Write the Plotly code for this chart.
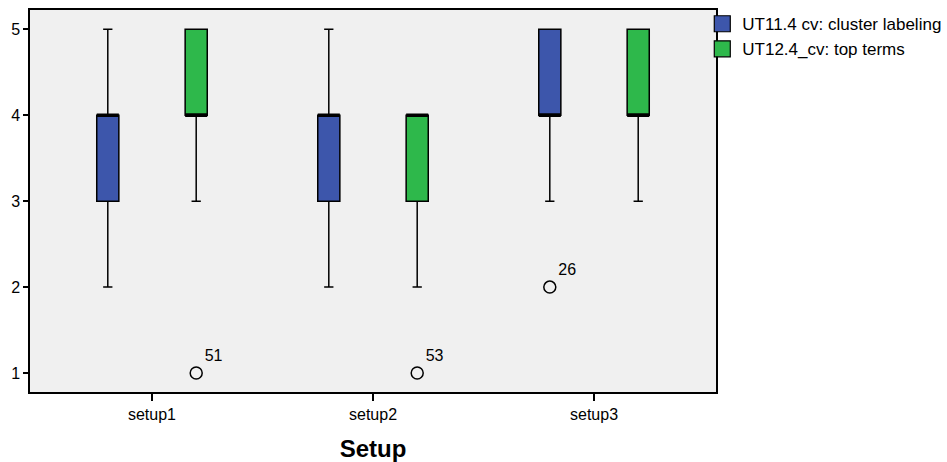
import plotly.graph_objects as go

# Group labels on the x axis
setups = ["setup1", "setup2", "setup3"]

# Five-number summaries per setup (whisker low, Q1, median, Q3, whisker high)
ut11_low = [2, 2, 3]
ut11_q1 = [3, 3, 4]
ut11_median = [4, 4, 4]
ut11_q3 = [4, 4, 5]
ut11_high = [5, 5, 5]

ut12_low = [3, 2, 3]
ut12_q1 = [4, 3, 4]
ut12_median = [4, 4, 4]
ut12_q3 = [5, 4, 5]
ut12_high = [5, 4, 5]

# Outliers: (setup index, series, value, case label)
outlier_setup = [0, 1, 2]
outlier_series = ["ut12", "ut12", "ut11"]
outlier_value = [1, 1, 2]
outlier_label = ["51", "53", "26"]

series_names = {"ut11": "UT11.4 cv: cluster labeling", "ut12": "UT12.4_cv: top terms"}
series_colors = {"ut11": "#3D56AB", "ut12": "#2EB84B"}
offsets = {"ut11": -0.2, "ut12": 0.2}
box_w = 0.1

fig = go.Figure()

stats = {
    "ut11": (ut11_low, ut11_q1, ut11_median, ut11_q3, ut11_high),
    "ut12": (ut12_low, ut12_q1, ut12_median, ut12_q3, ut12_high),
}

for key, (lo, q1, med, q3, hi) in stats.items():
    xs = [i + offsets[key] for i in range(len(setups))]
    fig.add_trace(go.Box(
        x=xs, lowerfence=lo, q1=q1, median=med, q3=q3, upperfence=hi,
        name=series_names[key], fillcolor=series_colors[key],
        line=dict(color="black", width=1.5), width=box_w, whiskerwidth=0.42,
        boxpoints=False, hoverinfo="skip", showlegend=False,
    ))
    # Heavier median strokes
    mx, my = [], []
    for x, m in zip(xs, med):
        mx += [x - box_w / 2, x + box_w / 2, None]
        my += [m, m, None]
    fig.add_trace(go.Scatter(x=mx, y=my, mode="lines",
                             line=dict(color="black", width=3.5),
                             showlegend=False, hoverinfo="skip"))

# Legend swatches
for key in ["ut11", "ut12"]:
    fig.add_trace(go.Scatter(
        x=[None], y=[None], mode="markers", name=series_names[key],
        marker=dict(symbol="square", size=16, color=series_colors[key],
                    line=dict(color="black", width=1.2)),
    ))

# Outlier circles with case labels
ox = [s + offsets[k] for s, k in zip(outlier_setup, outlier_series)]
fig.add_trace(go.Scatter(
    x=ox, y=outlier_value, mode="markers+text", text=outlier_label,
    textposition="top right",
    textfont=dict(family="Liberation Sans, Arial", size=16, color="black"),
    marker=dict(symbol="circle-open", size=12, color="black", line=dict(width=1.5)),
    showlegend=False, hoverinfo="skip",
))

fig.update_layout(
    width=947, height=462,
    margin=dict(l=30, r=231, t=10, b=70, autoexpand=False),
    paper_bgcolor="white", plot_bgcolor="#F0F0F0",
    font=dict(family="Liberation Sans, Arial", size=16, color="black"),
    legend=dict(x=0.98, y=1.01, xanchor="left", yanchor="top",
                font=dict(size=17), bgcolor="rgba(0,0,0,0)",
                tracegroupgap=0, itemwidth=30),
)
fig.update_xaxes(
    range=[-0.552, 2.552], tickmode="array",
    tickvals=list(range(len(setups))), ticktext=setups,
    showgrid=False, zeroline=False, showline=True, mirror=True,
    linecolor="black", linewidth=1.5, ticks="outside", ticklen=7,
    tickwidth=1.5, tickcolor="black",
    title=dict(text="<b>Setup</b>", font=dict(size=24), standoff=28),
)
fig.update_yaxes(
    range=[0.779, 5.225], tickvals=[1, 2, 3, 4, 5],
    showgrid=False, zeroline=False, showline=True, mirror=True,
    linecolor="black", linewidth=1.5, ticks="outside", ticklen=5,
    tickwidth=1.5, tickcolor="black",
)

fig.write_html("out.html")
